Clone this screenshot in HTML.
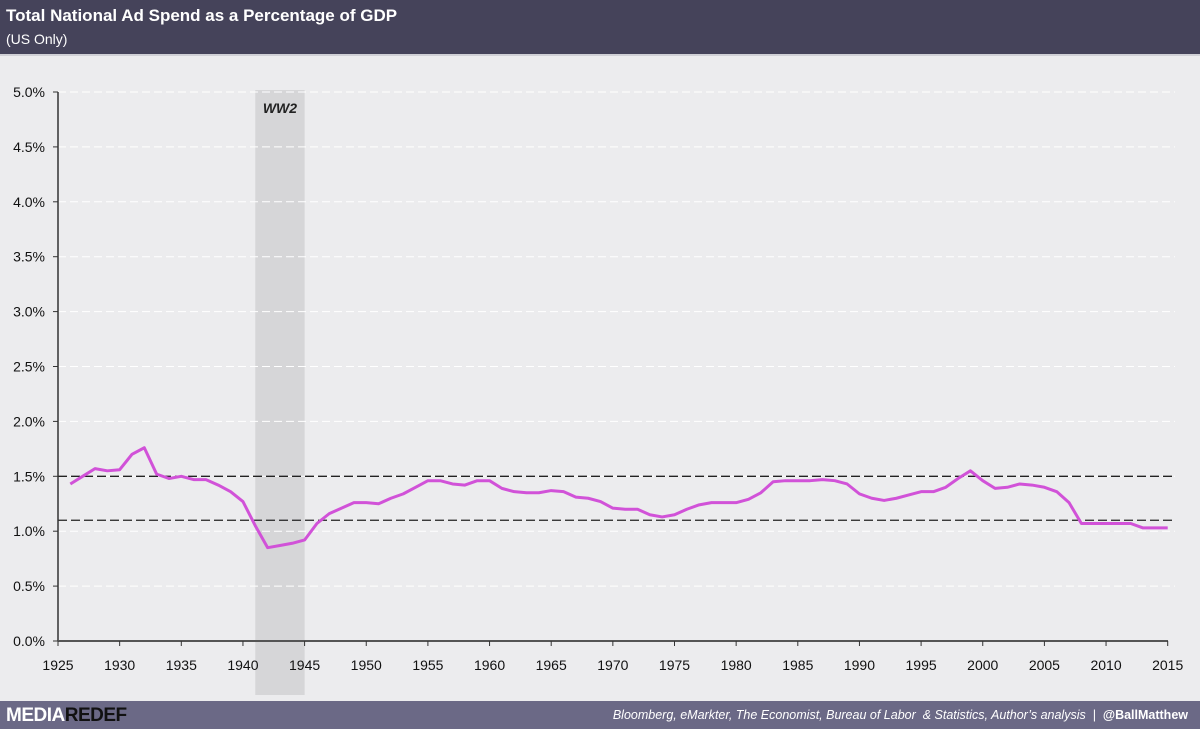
<!DOCTYPE html>
<html><head><meta charset="utf-8"><style>
body{margin:0;width:1200px;height:729px;overflow:hidden;background:#ececee;font-family:"Liberation Sans",sans-serif;}
#hdr{position:absolute;left:0;top:0;width:1200px;height:54px;background:#45435a;border-bottom:2px solid #d0d0d6;}
#title{position:absolute;left:6px;top:6px;color:#fff;font-size:17px;font-weight:bold;}
#sub{position:absolute;left:6px;top:31px;color:#fff;font-size:14px;}
#ftr{position:absolute;left:0;top:701px;width:1200px;height:28px;background:#6b6986;}
#logo{position:absolute;left:6px;top:4px;font-size:19px;font-weight:bold;color:#fff;letter-spacing:-0.5px;}
#src{position:absolute;right:12px;top:7px;font-size:12.5px;color:#fff;font-style:italic;}
svg{position:absolute;left:0;top:0;}
</style></head><body>
<div id="hdr">
<div id="title">Total National Ad Spend as a Percentage of GDP</div>
<div id="sub">(US Only)</div></div>
<svg id="chart" width="1200" height="729"></svg>
<div id="ftr">
<div id="logo">MEDIA<span style="color:#111">REDEF</span></div>
<div id="src">Bloomberg, eMarkter, The Economist, Bureau of Labor &nbsp;&amp; Statistics, Author’s analysis &nbsp;| &nbsp;<b style="font-style:normal">@BallMatthew</b></div></div>
<script>
const years=[];for(let y=1926;y<=2015;y++)years.push(y);
const values=[1.43,1.50,1.57,1.55,1.56,1.70,1.76,1.52,1.48,1.50,1.47,1.47,1.42,1.36,1.27,1.05,0.85,0.87,0.89,0.92,1.07,1.16,1.21,1.26,1.26,1.25,1.30,1.34,1.40,1.46,1.46,1.43,1.42,1.46,1.46,1.39,1.36,1.35,1.35,1.37,1.36,1.31,1.30,1.27,1.21,1.20,1.20,1.15,1.13,1.15,1.20,1.24,1.26,1.26,1.26,1.29,1.35,1.45,1.46,1.46,1.46,1.47,1.46,1.43,1.34,1.30,1.28,1.30,1.33,1.36,1.36,1.40,1.48,1.55,1.46,1.39,1.40,1.43,1.42,1.40,1.36,1.26,1.07,1.07,1.07,1.07,1.07,1.03,1.03,1.03];
const yTicks=[0,0.5,1,1.5,2,2.5,3,3.5,4,4.5,5];
const xTicks=[1925,1930,1935,1940,1945,1950,1955,1960,1965,1970,1975,1980,1985,1990,1995,2000,2005,2010,2015];
const refLines=[1.5,1.1];
const shade=[1941,1945];
const NS="http://www.w3.org/2000/svg",svg=document.getElementById('chart');
const X=v=>58+(v-1925)*12.33, Y=v=>641-v*109.8;
function mk(t,a,p){const e=document.createElementNS(NS,t);for(const k in a)e.setAttribute(k,a[k]);(p||svg).appendChild(e);return e;}
let r=mk('rect',{x:X(shade[0]),y:90,width:X(shade[1])-X(shade[0]),height:605,fill:'#d6d6d8'});


let t=mk('text',{x:(X(shade[0])+X(shade[1]))/2,y:113,'text-anchor':'middle','font-size':14,'font-weight':'bold','font-style':'italic',fill:'#222'});t.textContent='WW2';


yTicks.forEach(v=>{
 if(v>0){let g=mk('line',{x1:58,x2:1175,y1:Y(v),y2:Y(v),stroke:'#fff','stroke-width':1,'stroke-dasharray':'8,4'});
 
 }
 mk('line',{x1:53,x2:58,y1:Y(v),y2:Y(v),stroke:'#333'});
 let l=mk('text',{x:45,y:Y(v)+5,'text-anchor':'end','font-size':14,fill:'#111'});l.textContent=v.toFixed(1)+'%';
 
 
});
refLines.forEach(v=>{let g=mk('line',{x1:58,x2:1172,y1:Y(v),y2:Y(v),stroke:'#222','stroke-width':1.3,'stroke-dasharray':'9,4'});
 
 });
mk('line',{x1:58,x2:58,y1:Y(5),y2:Y(0),stroke:'#333','stroke-width':1.5});
mk('line',{x1:58,x2:1168,y1:Y(0),y2:Y(0),stroke:'#555','stroke-width':2});
xTicks.forEach(v=>{mk('line',{x1:X(v),x2:X(v),y1:Y(0),y2:Y(0)+5,stroke:'#333'});
 let l=mk('text',{x:X(v),y:670,'text-anchor':'middle','font-size':14,fill:'#111'});l.textContent=v;
 
 });
let p=mk('polyline',{points:years.map((y,i)=>X(y)+','+Y(values[i])).join(' '),fill:'none',stroke:'#d152d8','stroke-width':3,'stroke-linejoin':'round'});


</script></body></html>
